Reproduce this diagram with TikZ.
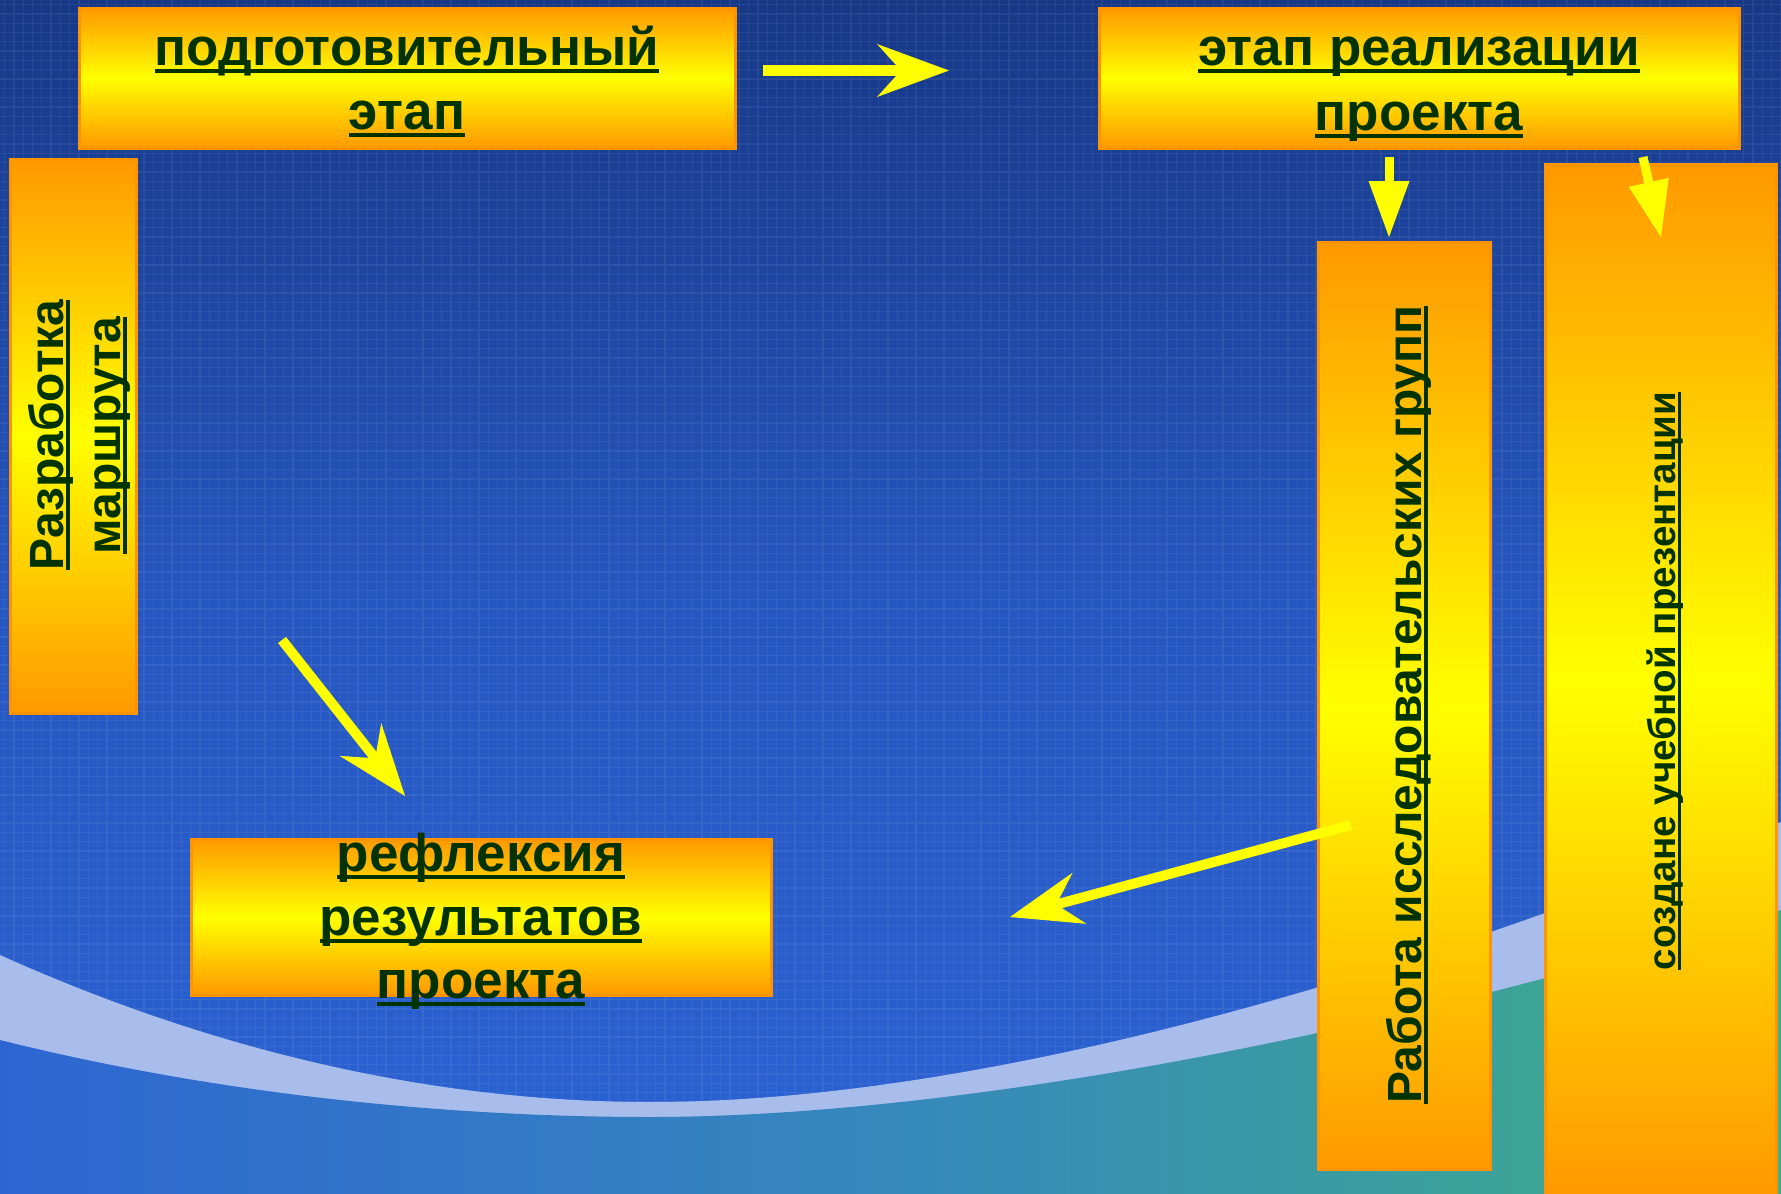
\documentclass[tikz,border=0pt]{standalone}
\usepackage{fontspec}
\setmainfont{Liberation Sans}
\usetikzlibrary{arrows.meta}
\definecolor{bgtop}{HTML}{163886}
\definecolor{bgmid}{HTML}{2656C0}
\definecolor{bgbot}{HTML}{2B63D3}
\definecolor{bandc}{HTML}{A8BDEC}
\definecolor{lowleft}{HTML}{2D66D2}
\definecolor{lowmid}{HTML}{3688BC}
\definecolor{lowright}{HTML}{3FAE88}
\definecolor{boxorange}{HTML}{FF9900}
\definecolor{boxyellow}{HTML}{FFFF00}
\definecolor{boxedge}{HTML}{FF9400}
\definecolor{txtgreen}{HTML}{003300}
\definecolor{arrowyellow}{HTML}{FFFF00}
\newsavebox{\myulbox}
\newcommand{\ulx}[1]{\sbox{\myulbox}{#1}\rlap{\rule[-0.155em]{\wd\myulbox}{0.085em}}\usebox{\myulbox}}
\begin{document}
\begin{tikzpicture}[x=1pt,y=-1pt,
  stagebox/.style={draw=boxedge, line width=3pt, top color=boxorange, bottom color=boxorange, middle color=boxyellow, inner sep=0pt},
  lbl/.style={text=txtgreen, font=\bfseries\fontsize{53}{62}\selectfont, inner sep=0pt, anchor=base},
  lblmid/.style={lbl, font=\bfseries\fontsize{48}{58}\selectfont},
  lblsmall/.style={lbl, font=\bfseries\fontsize{38.6}{46}\selectfont},
  gridl/.style={draw=white, opacity=0.065, line width=1.3pt},
  barbarrow/.style={draw=arrowyellow, line width=11pt, -{Stealth[length=72pt,width=53pt,inset=24pt,line width=0pt]}},
  triarrow/.style={draw=arrowyellow, line width=9pt, -{Triangle[length=56pt,width=41pt,line width=0pt]}}
]
\useasboundingbox (0,0) rectangle (1781,1194);
% background
\shade[top color=bgtop, bottom color=bgbot, middle color=bgmid] (0,0) rectangle (1781,1194);
\path[gridl] \foreach \gx in {4.6,13.9,...,1781} {(\gx,0) -- (\gx,1194)}
             \foreach \gy in {4.6,13.9,...,1194} {(0,\gy) -- (1781,\gy)};
\fill[bandc] (0,955) .. controls (200,1045) and (420,1102) .. (650,1102)
  .. controls (950,1102) and (1350,1000) .. (1781,822) -- (1781,1194) -- (0,1194) -- cycle;
\shade[left color=lowleft, right color=lowright, middle color=lowmid]
  (0,1040) .. controls (220,1095) and (450,1117) .. (650,1117)
  .. controls (900,1117) and (1300,1060) .. (1781,910) -- (1781,1194) -- (0,1194) -- cycle;
% boxes
\node[stagebox, minimum width=656, minimum height=140] (prep) at (407,78) {};
\node[stagebox, minimum width=640, minimum height=140] (impl) at (1419,78) {};
\node[stagebox, minimum width=126, minimum height=554] (route) at (73,436) {};
\node[stagebox, minimum width=172, minimum height=927] (groups) at (1404,705.5) {};
\node[stagebox, minimum width=231, minimum height=1032] (pres) at (1660.5,680) {};
\node[stagebox, minimum width=580, minimum height=156] (refl) at (481,917) {};
% texts
\node[lbl] (prepA) at (407,65) {\ulx{подготовительный}};
\node[lbl] (prepB) at (407,129) {\ulx{этап}};
\node[lbl] (implA) at (1419,65) {\ulx{этап реализации}};
\node[lbl] (implB) at (1419,130) {\ulx{проекта}};
\node[lblmid, rotate=90] (routeA) at (63,435) {\ulx{Разработка}};
\node[lblmid, rotate=90] (routeB) at (120,435.5) {\ulx{маршрута}};
\node[lblmid, rotate=90] (groupsT) at (1421,704.5) {\ulx{Работа исследовательских групп}};
\node[lblsmall, rotate=90] (presT) at (1675,681) {\ulx{создане учебной презентации}};
\node[lbl] (reflA) at (481,871) {\ulx{рефлексия}};
\node[lbl] (reflB) at (481,935) {\ulx{результатов}};
\node[lbl] (reflC) at (481,998) {\ulx{проекта}};
% arrows
\coordinate (a1s) at (763,70.5); \coordinate (a1e) at (949,70.5);
\coordinate (a2s) at (1389,157); \coordinate (a2e) at (1389,237);
\coordinate (a3s) at (1643,157); \coordinate (a3e) at (1661,237);
\coordinate (a4s) at (282,640); \coordinate (a4e) at (405,796);
\coordinate (a5s) at (1351,825); \coordinate (a5e) at (1010,917);
\draw[barbarrow] (a1s) -- (a1e);
\draw[triarrow] (a2s) -- (a2e);
\draw[triarrow] (a3s) -- (a3e);
\draw[barbarrow, line width=10pt] (a4s) -- (a4e);
\draw[barbarrow, line width=10pt] (a5s) -- (a5e);
\end{tikzpicture}
\end{document}
